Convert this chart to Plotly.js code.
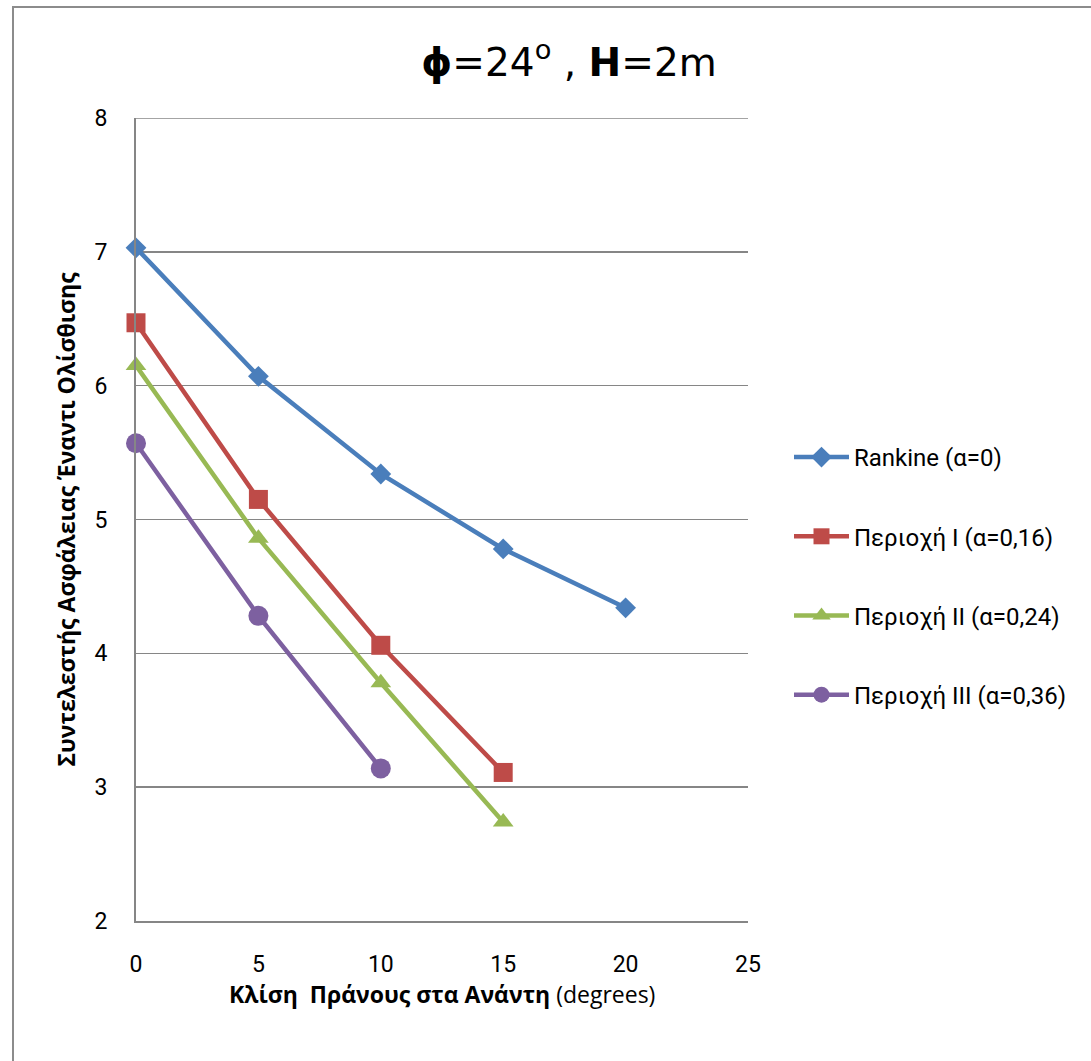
<!DOCTYPE html>
<html>
<head>
<meta charset="utf-8">
<script src="https://cdn.plot.ly/plotly-3.0.1.min.js"></script>
<style>
  html, body { margin: 0; padding: 0; background: #fff; }
  #wrap { position: relative; width: 1091px; height: 1061px; overflow: hidden; }
  #chart { position: absolute; left: 0; top: 0; width: 1091px; height: 1061px; }
  #frame { position: absolute; left: 12px; top: 6px; width: 1090px; height: 1070px;
           border: 2px solid #8c8c8c; pointer-events: none; box-sizing: border-box; }
</style>
</head>
<body>
<div id="wrap">
  <div id="chart"></div>
  <div id="frame"></div>
</div>
<script>
// Slope angle of the upstream ground (degrees)
const slopeRankine = [0, 5, 10, 15, 20];
const slopeRegionI = [0, 5, 10, 15];
const slopeRegionII = [0, 5, 10, 15];
const slopeRegionIII = [0, 5, 10];

// Factor of safety against sliding
const fsRankine = [7.03, 6.07, 5.34, 4.78, 4.34];
const fsRegionI = [6.47, 5.15, 4.06, 3.11];
const fsRegionII = [6.15, 4.86, 3.78, 2.74];
const fsRegionIII = [5.57, 4.28, 3.14];

const seriesNames = [
  'Rankine (α=0)',
  'Περιοχή I (α=0,16)',
  'Περιοχή II (α=0,24)',
  'Περιοχή III (α=0,36)'
];

const xTicks = [0, 5, 10, 15, 20, 25];
const yTicks = [2, 3, 4, 5, 6, 7, 8];

const colors = ['#4a7ebb', '#be4b48', '#98b954', '#7d60a0'];
const symbols = ['diamond', 'square', 'triangle-up', 'circle'];
const sizes = [16, 19, 18, 20];

const xs = [slopeRankine, slopeRegionI, slopeRegionII, slopeRegionIII];
const ys = [fsRankine, fsRegionI, fsRegionII, fsRegionIII];

const traces = xs.map((x, i) => ({
  x: x,
  y: ys[i],
  name: seriesNames[i],
  legendgroup: 'g' + i,
  type: 'scatter',
  mode: 'lines+markers',
  line: { color: colors[i], width: 4.5 },
  marker: { symbol: symbols[i], size: sizes[i], color: colors[i], line: { width: 0 } },
  cliponaxis: false
}));

const tickFont = { family: 'Roboto, sans-serif', size: 23, color: '#000' };

const layout = {
  width: 1091,
  height: 1061,
  margin: { l: 136, r: 343, t: 118, b: 140 },
  paper_bgcolor: '#ffffff',
  plot_bgcolor: '#ffffff',
  showlegend: true,
  title: {
    text: '<b>ϕ</b>=24<sup>ο</sup> , <b>H</b>=2m',
    font: { family: '"DejaVu Sans", sans-serif', size: 39, color: '#000' },
    x: 569 / 1091,
    xref: 'container',
    xanchor: 'center',
    y: 1 - 62 / 1061,
    yref: 'container',
    yanchor: 'middle'
  },
  // gridline along the top edge of the value axis (y = 8)
  shapes: [{
    type: 'line', xref: 'paper', x0: 0, x1: 1, yref: 'y', y0: yTicks[yTicks.length - 1], y1: yTicks[yTicks.length - 1],
    line: { color: '#868686', width: 1.5 }, layer: 'below'
  }],
  // horizontal axis title, set a little closer to the tick labels
  annotations: [{
    text: '<b>Κλίση  Πράνους στα Ανάντη</b> (degrees)',
    font: { family: '"Open Sans", sans-serif', size: 23, color: '#000' },
    xref: 'paper', x: 0.5, xanchor: 'center',
    yref: 'paper', y: -73 / 803, yanchor: 'middle',
    borderpad: 0,
    showarrow: false
  }],
  xaxis: {
    range: [0, 25],
    tickvals: xTicks,
    ticktext: xTicks.map(String),
    tickfont: tickFont,
    ticks: '',
    ticklabelstandoff: 21,
    showgrid: false,
    zeroline: false,
    showline: true,
    linecolor: '#868686',
    linewidth: 2
  },
  yaxis: {
    range: [2, 8],
    tickvals: yTicks,
    ticktext: yTicks.map(String),
    tickfont: tickFont,
    ticks: '',
    ticklabelstandoff: 22,
    showgrid: true,
    gridcolor: '#868686',
    gridwidth: 1.5,
    zeroline: false,
    showline: true,
    linecolor: '#868686',
    linewidth: 2,
    title: {
      text: '<b>Συντελεστής Ασφάλειας Έναντι Ολίσθισης</b>',
      font: { family: '"Open Sans", sans-serif', size: 23, color: '#000' },
      standoff: 12
    }
  },
  legend: {
    x: 789 / 1091,
    xref: 'container',
    xanchor: 'left',
    y: 1 - 435 / 1061,
    yref: 'container',
    yanchor: 'top',
    font: { family: 'Roboto, sans-serif', size: 24, color: '#000' },
    tracegroupgap: 45,
    itemwidth: 55,
    bgcolor: 'rgba(0,0,0,0)'
  }
};

Plotly.newPlot('chart', traces, layout, { displayModeBar: false, staticPlot: true });
</script>
</body>
</html>
